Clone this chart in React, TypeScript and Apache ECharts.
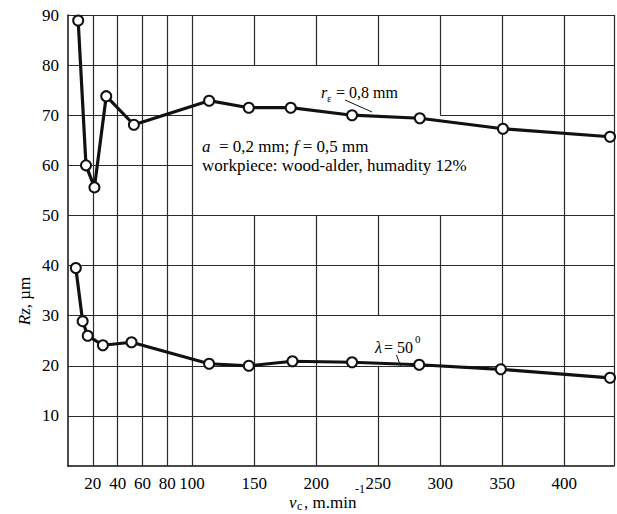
import { useEffect, useRef } from "react";
import * as echarts from "echarts";

// Cutting speed v_c (m/min) and roughness Rz (µm), r_ε = 0,8 mm curve
const speedUpper = [8.2, 14.5, 21.3, 30.8, 53.1, 113.7, 145.7, 179.5, 228.9, 283.5, 350.5, 436.8];
const rzUpper = [88.9, 60.0, 55.6, 73.8, 68.1, 72.9, 71.5, 71.5, 70.0, 69.4, 67.3, 65.7];

// λ = 50° curve
const speedLower = [6.3, 11.8, 15.9, 28.1, 51.2, 113.7, 145.7, 180.9, 228.9, 283.0, 348.8, 436.8];
const rzLower = [39.5, 28.9, 26.0, 24.1, 24.7, 20.4, 20.0, 20.9, 20.7, 20.2, 19.3, 17.6];

// Axis tick labels
const xTickLabels = [20, 40, 60, 80, 100, 150, 200, 250, 300, 350, 400];
const yTickLabels = [10, 20, 30, 40, 50, 60, 70, 80, 90];

// Grid rules: [x, yFrom, yTo] and [y, xFrom, xTo], left open behind the notes
const verticalRules: [number, number, number][] = [
  [20, 0, 90], [40, 0, 90], [60, 0, 90], [80, 0, 90], [100, 0, 90],
  [150, 0, 50], [150, 80, 90],
  [200, 0, 50], [200, 80, 90],
  [250, 0, 20], [250, 30, 50], [250, 80, 90],
  [300, 0, 50], [300, 70, 90],
  [350, 0, 90], [400, 0, 90], [440, 0, 90],
];
const horizontalRules: [number, number, number][] = [
  [10, 0, 440], [20, 0, 440], [30, 0, 440], [40, 0, 440], [50, 0, 440],
  [60, 0, 100],
  [70, 0, 100], [70, 300, 440],
  [80, 0, 440], [90, 0, 440],
];

const SERIF = "serif";
const INK = "#000";

export default function App() {
  const ref = useRef<HTMLDivElement>(null);

  useEffect(() => {
    if (!ref.current) return;
    const chart = echarts.init(ref.current, undefined, { renderer: "svg" });

    const ruleData: any[] = [
      ...verticalRules.map(([x, y0, y1]) => [{ coord: [x, y0] }, { coord: [x, y1] }]),
      ...horizontalRules.map(([y, x0, x1]) => [{ coord: [x0, y] }, { coord: [x1, y] }]),
    ];

    const curveStyle = {
      type: "line" as const,
      symbol: "circle",
      symbolSize: 10,
      showSymbol: true,
      lineStyle: { color: "#111", width: 3.2 },
      itemStyle: { color: "#fff", borderColor: "#111", borderWidth: 2 },
      z: 5,
      silent: true,
    };

    const txt = (extra: any) => ({
      type: "text",
      silent: true,
      z: 10,
      ...extra,
      style: {
        fill: INK,
        fontFamily: SERIF,
        fontSize: 17,
        verticalAlign: "middle",
        ...extra.style,
      },
    });

    chart.setOption({
      animation: false,
      backgroundColor: "#fff",
      textStyle: { fontFamily: SERIF },
      grid: { left: 68, right: 2, top: 15, bottom: 48, containLabel: false },
      xAxis: {
        type: "value",
        min: 0,
        max: 440,
        interval: 10,
        axisLine: { show: true, onZero: false, lineStyle: { color: "#111", width: 1.5 } },
        axisTick: { show: false },
        splitLine: { show: false },
        axisLabel: {
          margin: 9,
          color: INK,
          fontFamily: SERIF,
          fontSize: 17,
          formatter: (v: number) => (xTickLabels.includes(v) ? String(v) : ""),
        },
      },
      yAxis: {
        type: "value",
        min: 0,
        max: 90,
        interval: 10,
        axisLine: { show: true, onZero: false, lineStyle: { color: "#111", width: 1.5 } },
        axisTick: { show: false },
        splitLine: { show: false },
        axisLabel: {
          margin: 9,
          color: INK,
          fontFamily: SERIF,
          fontSize: 17,
          formatter: (v: number) => (yTickLabels.includes(v) ? String(v) : ""),
        },
      },
      series: [
        {
          type: "line",
          data: [],
          silent: true,
          z: 1,
          markLine: {
            silent: true,
            symbol: ["none", "none"],
            label: { show: false },
            lineStyle: { color: "#2a2a2a", width: 1.2, type: "solid" },
            emphasis: { disabled: true },
            data: ruleData,
          },
        },
        { ...curveStyle, name: "r_e", data: speedUpper.map((x, i) => [x, rzUpper[i]]) },
        { ...curveStyle, name: "lambda", data: speedLower.map((x, i) => [x, rzLower[i]]) },
      ],
      graphic: [
        // y-axis name
        txt({
          x: 24,
          y: 301,
          rotation: Math.PI / 2,
          style: {
            text: "{i|Rz}, µm",
            align: "center",
            rich: { i: { fontStyle: "italic", fontFamily: SERIF, fontSize: 17 } },
          },
        }),
        // x-axis name: v_c , m.min^-1
        txt({ x: 289, y: 502, style: { text: "v", fontStyle: "italic", align: "left" } }),
        txt({ x: 297, y: 506, style: { text: "c", fontSize: 12, align: "left" } }),
        txt({ x: 304, y: 502, style: { text: ", m.min", align: "left" } }),
        txt({ x: 355, y: 489, style: { text: "-1", fontSize: 12, align: "left" } }),
        // r_ε note
        txt({ x: 321, y: 92, style: { text: "r", fontStyle: "italic", fontSize: 16, align: "left" } }),
        txt({ x: 327, y: 98, style: { text: "ε", fontSize: 11, align: "left" } }),
        txt({ x: 336, y: 92, style: { text: "= 0,8 mm", fontSize: 16, align: "left" } }),
        {
          type: "line",
          silent: true,
          z: 10,
          shape: { x1: 345, y1: 100, x2: 372, y2: 112 },
          style: { stroke: "#111", lineWidth: 1 },
        },
        // cutting conditions
        txt({
          x: 202,
          y: 146,
          style: {
            text: "{i|a}  = 0,2 mm; {i|f} = 0,5 mm",
            align: "left",
            rich: { i: { fontStyle: "italic", fontFamily: SERIF, fontSize: 17 } },
          },
        }),
        txt({
          x: 202,
          y: 165,
          style: { text: "workpiece: wood-alder, humadity 12%", align: "left" },
        }),
        // λ note
        txt({ x: 375, y: 347, style: { text: "λ", fontStyle: "italic", fontSize: 16, align: "left" } }),
        txt({ x: 384, y: 347, style: { text: "= 50", fontSize: 16, align: "left" } }),
        txt({ x: 415, y: 339, style: { text: "0", fontSize: 11, align: "left" } }),
        {
          type: "line",
          silent: true,
          z: 10,
          shape: { x1: 396.5, y1: 355, x2: 400.5, y2: 366 },
          style: { stroke: "#111", lineWidth: 1 },
        },
      ],
    });

    return () => chart.dispose();
  }, []);

  return <div ref={ref} style={{ width: 617, height: 514, position: "absolute", left: 0, top: 0 }} />;
}
